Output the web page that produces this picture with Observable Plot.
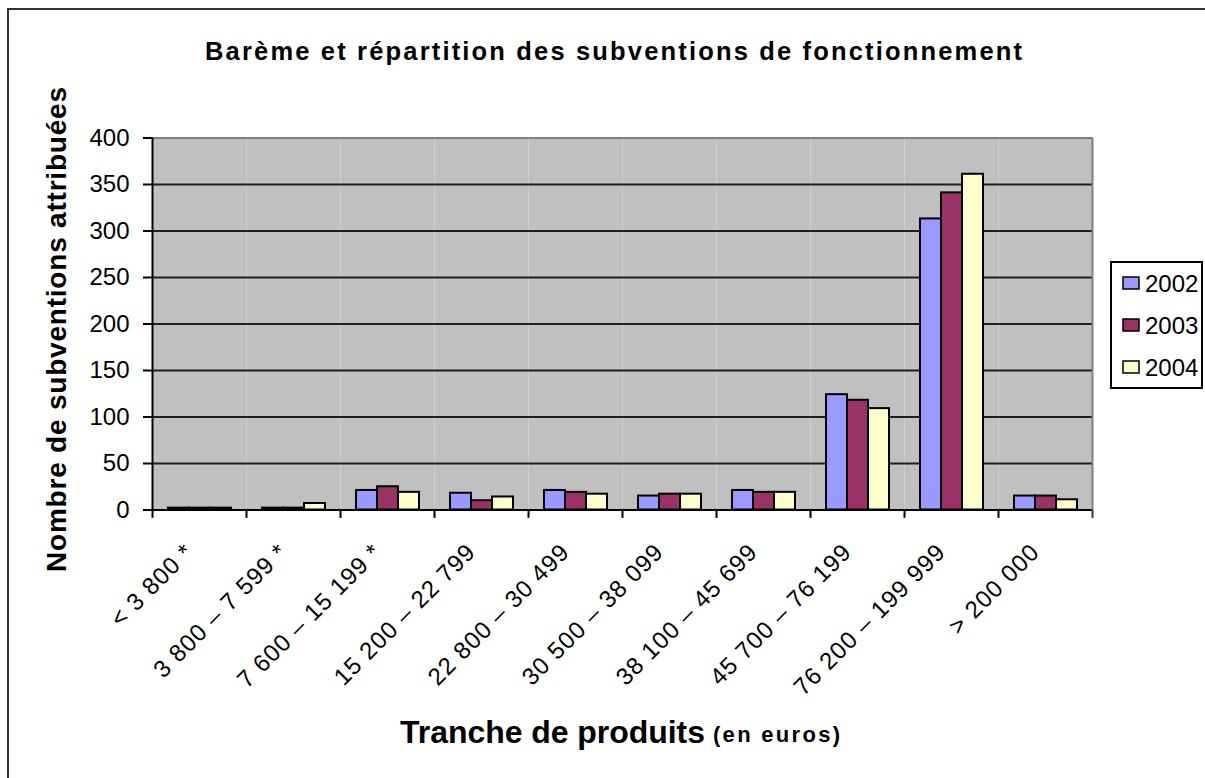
<!DOCTYPE html>
<html><head><meta charset="utf-8">
<script src="https://cdn.jsdelivr.net/npm/d3@7"></script>
<script src="https://cdn.jsdelivr.net/npm/@observablehq/plot@0.6"></script>
<style>
body{margin:0;background:#fff;}
#wrap{position:relative;width:1205px;height:778px;overflow:hidden;font-family:"Liberation Sans",Arial,sans-serif;color:#000;}
#wrap svg{position:absolute;left:0;top:0;}
#wrap svg g[aria-label="fx-axis tick label"] text{letter-spacing:1px;}
</style></head><body>
<div id="wrap"></div>
<script>
// ---- data ----
const categories = [
  "< 3 800 *", "3 800 – 7 599 *", "7 600 – 15 199 *", "15 200 – 22 799",
  "22 800 – 30 499", "30 500 – 38 099", "38 100 – 45 699", "45 700 – 76 199",
  "76 200 – 199 999", "> 200 000"
];
const years = ["2002", "2003", "2004"];
const values2002 = [2, 2, 21, 18, 21, 15, 21, 124, 313, 15];
const values2003 = [2, 2, 25, 10, 19, 17, 19, 118, 341, 15];
const values2004 = [2, 7, 19, 14, 17, 17, 19, 109, 361, 11];
const yTicks = [0, 50, 100, 150, 200, 250, 300, 350, 400];
const seriesColors = ["#9999FF", "#993366", "#FFFFCC"];
const titleText = "Barème et répartition des subventions de fonctionnement";
const yLabelText = "Nombre de subventions attribuées";
const xLabelMain = "Tranche de produits";
const xLabelUnit = "(en euros)";

const series = [values2002, values2003, values2004];
const rows = [];
categories.forEach((c, i) => years.forEach((y, j) => rows.push({cat: c, year: y, value: series[j][i]})));

// ---- layout ----
const W = 1205, H = 778, ML = 152, MR = 113, MT = 137.5, MB = 268.5;
const facetW = (W - ML - MR) / categories.length;
const font = '"Liberation Sans", Arial, sans-serif';

const chart = Plot.plot({
  width: W, height: H,
  marginLeft: ML, marginRight: MR, marginTop: MT, marginBottom: MB,
  style: {fontFamily: font, fontSize: "24px", color: "#000", background: "transparent", overflow: "visible"},
  fx: {domain: categories, padding: 0, label: null},
  x: {domain: years, paddingInner: 0, paddingOuter: 0.65, axis: null},
  y: {domain: [0, 400], axis: null},
  color: {domain: years, range: seriesColors},
  marks: [
    Plot.frame({fill: "#C0C0C0", stroke: null}),
    Plot.ruleY(yTicks.filter(v => v > 0 && v < 400), {stroke: "#1e1e1e", strokeWidth: 2}),
    Plot.ruleY([400], {stroke: "#808080", strokeWidth: 2}),
    Plot.barY(rows, {fx: "cat", x: "year", y: "value", fill: "year", stroke: "#000", strokeWidth: 2}),
    Plot.ruleY([0], {stroke: "#000", strokeWidth: 2}),
    // category separator ticks below the axis
    Plot.ruleX(categories.slice(1), {fx: d => d, x: null, y1: -9, y2: 0, dx: -facetW / 2, stroke: "#000", strokeWidth: 2}),
    // y axis line (with its tick below)
    Plot.ruleX([categories[0]], {fx: d => d, x: null, y1: -9, y2: 400, dx: -facetW / 2, stroke: "#000", strokeWidth: 2}),
    // right border of plot area + last tick
    Plot.ruleX([categories[categories.length - 1]], {fx: d => d, x: null, y1: 0, y2: 400, dx: facetW / 2, stroke: "#808080", strokeWidth: 2}),
    Plot.ruleX([categories[categories.length - 1]], {fx: d => d, x: null, y1: -9, y2: 0, dx: facetW / 2, stroke: "#333", strokeWidth: 2}),
    Plot.axisY({ticks: yTicks, tickSize: 9, tickPadding: 14, fontSize: 24, strokeWidth: 2, label: null, tickFormat: d => String(d)}),
    Plot.axisFx({anchor: "bottom", tickSize: 0, tickPadding: 38, tickRotate: -45, fontSize: 24, label: null, dx: -10})
  ]
});
const wrap = document.getElementById("wrap");
wrap.appendChild(chart);

// ---- overlay: border, titles, legend ----
const svg = d3.select(wrap).append("svg").attr("width", W).attr("height", H)
  .style("font-family", font);

svg.append("path").attr("d", `M8,${H + 5} V9 H${W + 5}`).attr("fill", "none").attr("stroke", "#333").attr("stroke-width", 2);

svg.append("text").text(titleText)
  .attr("x", 613.5).attr("y", 59.5).attr("text-anchor", "middle")
  .attr("font-size", 25.5).attr("font-weight", "bold")
  .attr("textLength", 817).attr("lengthAdjust", "spacing");

svg.append("text").text(yLabelText)
  .attr("transform", "translate(66,329.5) rotate(-90)").attr("text-anchor", "middle")
  .attr("font-size", 28).attr("font-weight", "bold")
  .attr("textLength", 485).attr("lengthAdjust", "spacing");

svg.append("text").text(xLabelMain)
  .attr("x", 400).attr("y", 743)
  .attr("font-size", 32).attr("font-weight", "bold")
  .attr("textLength", 305).attr("lengthAdjust", "spacing");
svg.append("text").text(xLabelUnit)
  .attr("x", 713).attr("y", 742)
  .attr("font-size", 22).attr("font-weight", "bold")
  .attr("textLength", 127).attr("lengthAdjust", "spacing");

// legend, from the chart's own color scale
const color = chart.scale("color");
const leg = svg.append("g");
leg.append("rect").attr("x", 1111).attr("y", 262).attr("width", 91).attr("height", 126)
  .attr("fill", "#fff").attr("stroke", "#000").attr("stroke-width", 2);
const rowCenters = [283, 325, 367];
color.domain.forEach((d, i) => {
  const cy = rowCenters[i];
  leg.append("rect").attr("x", 1123).attr("y", cy - 6).attr("width", 16).attr("height", 12)
    .attr("fill", color.range[i]).attr("stroke", "#000").attr("stroke-width", 1.5);
  leg.append("text").text(d).attr("x", 1145).attr("y", cy + 8.5).attr("font-size", 24);
});
</script>
</body></html>
